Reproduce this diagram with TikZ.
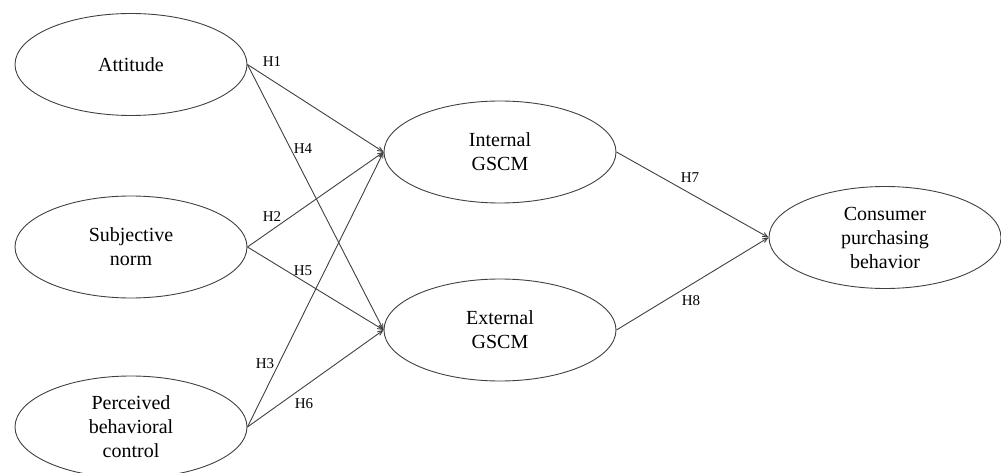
\documentclass[tikz,border=0pt]{standalone}
\usepackage{fontspec}
\setmainfont{Liberation Serif}
\usepackage{tikz}
\usetikzlibrary{arrows}
\usetikzlibrary{shapes.geometric}
\usetikzlibrary{positioning}

\begin{document}
\begin{tikzpicture}[x=1pt,y=1pt,->,>=angle 45,line width=0.9pt,draw=black!75]
		\tikzstyle{construct}=[ellipse,draw=black!75,line width=0.9pt,inner sep=0pt,
			minimum width=232pt,minimum height=102pt,align=center,
			font=\fontsize{20}{24}\selectfont];
		\tikzstyle{hyp}=[inner sep=0pt,font=\fontsize{15}{18}\selectfont];
		\useasboundingbox(0,0)rectangle(1001,-473);
		% predictors
		\node[construct](att)at(131,-64.5){Attitude};
		\node[construct](sub)at(131,-247){Subjective\\norm};
		\node[construct](pbc)at(131,-427){Perceived\\behavioral\\control};
		% mediators
		\node[construct](int)at(500,-152){Internal\\GSCM};
		\node[construct](ext)at(500,-330){External\\GSCM};
		% outcome
		\node[construct](cpb)at(885,-237.5){Consumer\\purchasing\\behavior};

		\draw(att.east)--(int.west);
		\draw(att.east)--(ext.west);
		\draw(sub.east)--(int.west);
		\draw(sub.east)--(ext.west);
		\draw(pbc.east)--(int.west);
		\draw(pbc.east)--(ext.west);
		\draw(int.east)--(cpb.west);
		\draw(ext.east)--(cpb.west);

		\node[hyp](h1)at(272,-62){H1};
		\node[hyp](h4)at(303,-149){H4};
		\node[hyp](h2)at(272,-217){H2};
		\node[hyp](h5)at(303,-271){H5};
		\node[hyp](h3)at(265,-364){H3};
		\node[hyp](h6)at(304,-404){H6};
		\node[hyp](h7)at(690,-178){H7};
		\node[hyp](h8)at(691,-301){H8};
	\end{tikzpicture}
\end{document}
